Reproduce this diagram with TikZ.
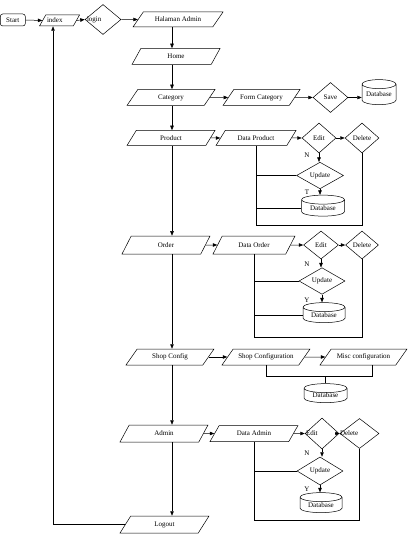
\documentclass[tikz,border=0pt]{standalone}
\usepackage{fontspec}
\setmainfont{Liberation Serif}
\usetikzlibrary{shapes.geometric,arrows.meta}
\begin{document}
\begin{tikzpicture}[x=1pt,y=-1pt, font=\fontsize{7}{8}\selectfont,
 line width=0.5pt,
 arr/.style={-{Triangle[length=4.5pt,width=3.5pt]}},
 para/.style={draw, trapezium, trapezium left angle=37, trapezium right angle=143,
   trapezium stretches body, minimum height=16pt, inner sep=1pt, minimum width=#1},
 para/.default=88pt,
 dia/.style 2 args={draw, diamond, inner sep=0pt, minimum width=#1, minimum height=#2},
 dbase/.style 2 args={draw, cylinder, shape border rotate=90, aspect=0.35, inner sep=0pt,
   minimum width=#1, minimum height=#2},
 startbox/.style={draw, rounded corners=2.5pt, minimum width=25pt, minimum height=12pt, inner sep=1pt},
 lbl/.style={inner sep=0pt}
]
\useasboundingbox (0,0) rectangle (412,537);

% top row
\node[startbox] (start) at (12.8,20) {Start};
\node[para=40pt, trapezium left angle=48, trapezium right angle=132, minimum height=11pt] (index) at (59.5,20.5) {\makebox[0pt][l]{\hspace*{-12.5pt}index}};
\node[dia={36pt}{30pt}] (login) at (103,19.5) {\makebox[0pt][l]{\hspace*{-16pt}login}};
\node[para=90pt, trapezium left angle=34, trapezium right angle=146, minimum height=15pt] (ha) at (178,19.5) {Halaman Admin};

% main column
\node[para] (home) at (176,56.5) {Home};
\node[para] (cat) at (171,97.5) {Category};
\node[para=77pt] (fc) at (261.5,97.5) {Form Category};
\node[dia={35pt}{30pt}] (save) at (330.5,97.5) {Save};
\node[dbase={34pt}{25pt}] (db1) at (379,94.5) {Database};

% product
\node[para, minimum height=15pt] (prod) at (171,138) {Product};
\node[para=80pt, minimum height=15pt] (dp) at (256,138) {Data Product};
\node[dia={34pt}{30pt}] (edit1) at (319,138) {Edit};
\node[dia={34pt}{30pt}] (del1) at (362,138) {Delete};
\node[dia={47pt}{23pt}] (upd1) at (320,175.5) {Update};
\node[dbase={43pt}{21pt}] (db2) at (323,208) {Database};
\node[lbl] (n1) at (307,155) {N};
\node[lbl] (t1) at (307,192) {T};

% order
\node[para, minimum height=18pt] (ord) at (166,245) {Order};
\node[para=82pt, minimum height=18pt] (do) at (254,245) {Data Order};
\node[dia={35pt}{28pt}] (edit2) at (321,245) {Edit};
\node[dia={33pt}{28pt}] (del2) at (362,245) {Delete};
\node[dia={46pt}{26pt}] (upd2) at (322,281) {Update};
\node[dbase={42pt}{20pt}] (db3) at (324,315) {Database};
\node[lbl] (n2) at (307,264) {N};
\node[lbl] (y2) at (307,300) {Y};

% shop config
\node[para] (shop) at (170,357) {Shop Config};
\node[para] (sc) at (266,357) {Shop Configuration};
\node[para=87pt] (misc) at (363.5,357) {Misc configuration};
\node[dbase={43pt}{19pt}] (db4) at (325.5,395.5) {Database};

% admin
\node[para, minimum height=17pt] (adm) at (164,433.5) {Admin};
\node[para] (da) at (254,433.5) {Data Admin};
\node[dia={34pt}{31pt}] (edit3) at (322,433.5) {\makebox[0pt][l]{\hspace*{-16pt}Edit}};
\node[dia={39pt}{30pt}] (del3) at (359.5,433.5) {\makebox[0pt][l]{\hspace*{-19.5pt}Delete}};
\node[dia={46pt}{28pt}] (upd3) at (320,471) {Update};
\node[dbase={42pt}{20pt}] (db5) at (321,505) {Database};
\node[lbl] (n3) at (307,453) {N};
\node[lbl] (y3) at (307,489) {Y};

\node[para=89pt, minimum height=17pt] (logout) at (164.5,524.5) {Logout};

% coordinates
\coordinate (mx) at (172,0);
\coordinate (lx) at (53,0);
\coordinate (pb) at (0,225);
\coordinate (ob) at (0,337);
\coordinate (ab) at (0,520);
\coordinate (sb) at (372,376);

% top row arrows
\draw[arr] (start.east) -- (index.west);
\draw[arr] (index.east) -- (login.west);
\draw[arr] (login.east) -- (ha.west);

% main column arrows
\draw[arr] (ha.south -| mx) -- (home.north -| mx);
\draw[arr] (home.south -| mx) -- (cat.north -| mx);
\draw[arr] (cat.south -| mx) -- (prod.north -| mx);
\draw[arr] (prod.south -| mx) -- (ord.north -| mx);
\draw[arr] (ord.south -| mx) -- (shop.north -| mx);
\draw[arr] (shop.south -| mx) -- (adm.north -| mx);
\draw[arr] (adm.south -| mx) -- (logout.north -| mx);
\draw[arr] (logout.west) -| (lx |- index.south);

% category row
\draw[arr] (cat.east) -- (fc.west);
\draw[arr] (fc.east) -- (save.west);
\draw[arr] (save.east) -- (save.east -| db1.180);

% product row
\draw[arr] (prod.east) -- (dp.west);
\draw[arr] (dp.east) -- (edit1.west);
\draw[arr] (edit1.east) -- (del1.west);
\draw[arr] (edit1.south) -- (edit1.south |- upd1.north);
\draw[arr] (upd1.south) -- (upd1.south |- db2.90);
\draw (dp.south) |- (del1.south |- pb) -- (del1.south);
\draw (upd1.west) -- (upd1.west -| dp.south);
\draw (db2.180) -- (db2.180 -| dp.south);

% order row
\draw[arr] (ord.east) -- (do.west);
\draw[arr] (do.east) -- (edit2.west);
\draw[arr] (edit2.east) -- (del2.west);
\draw[arr] (edit2.south) -- (edit2.south |- upd2.north);
\draw[arr] (upd2.south) -- (upd2.south |- db3.90);
\draw (do.south) |- (del2.south |- ob) -- (del2.south);
\draw (upd2.west) -- (upd2.west -| do.south);
\draw (db3.180) -- (db3.180 -| do.south);

% shop row
\draw[arr] (shop.east) -- (sc.west);
\draw[arr] (sc.east) -- (misc.west);
\draw (sc.south) |- (sb) -- (sb |- misc.south);
\draw (db4.90) -- (db4.90 |- sb);

% admin row
\draw[arr] (adm.east) -- (da.west);
\draw[arr] (da.east) -- (edit3.west);
\draw[arr] (edit3.east) -- (del3.west);
\draw[arr] (edit3.south) -- (edit3.south |- upd3.north);
\draw[arr] (upd3.south) -- (upd3.south |- db5.90);
\draw (da.south) |- (del3.south |- ab) -- (del3.south);
\draw (upd3.west) -- (upd3.west -| da.south);
\end{tikzpicture}
\end{document}
